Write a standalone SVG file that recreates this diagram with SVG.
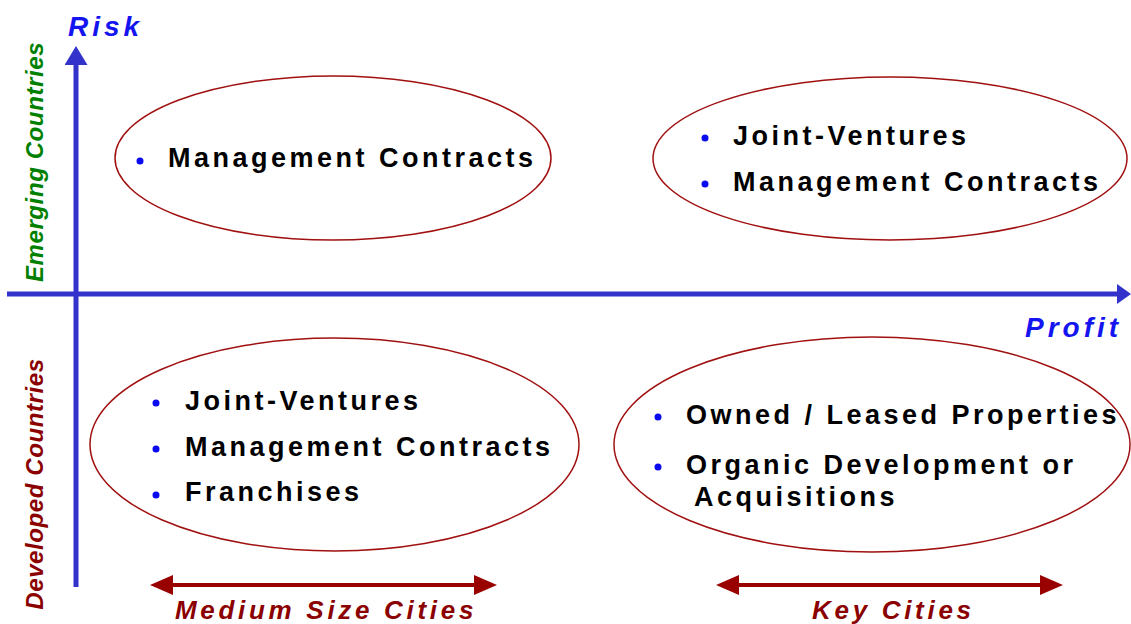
<svg xmlns="http://www.w3.org/2000/svg" width="1131" height="624" viewBox="0 0 1131 624">
<defs>
<style>
.ell{fill:none;stroke:#a01010;stroke-width:1.5}
.item{font-family:"Liberation Sans",Arial,sans-serif;font-weight:bold;font-size:27px;letter-spacing:3.5px;fill:#000}
.dot{fill:#0a0af0}
.axis{stroke:#3333cc;stroke-width:5;fill:none}
.red{stroke:#990000;stroke-width:4;fill:none}
.axlab{font-family:"Liberation Sans",Arial,sans-serif;font-weight:bold;font-style:italic;font-size:28px;letter-spacing:4px;fill:#1414f0}
.side{font-family:"Liberation Sans",Arial,sans-serif;font-weight:bold;font-style:italic;font-size:24px;letter-spacing:0.6px}
.city{font-family:"Liberation Sans",Arial,sans-serif;font-weight:bold;font-style:italic;font-size:26px;letter-spacing:3.7px;fill:#8b0000}
</style>
<marker id="headV" markerUnits="userSpaceOnUse" markerWidth="19" markerHeight="23" refX="0" refY="11.5" orient="auto" viewBox="0 0 19 23"><path d="M0,0 L19,11.5 L0,23 z" fill="#3333cc"/></marker>
<marker id="headH" markerUnits="userSpaceOnUse" markerWidth="14" markerHeight="20" refX="0" refY="10" orient="auto" viewBox="0 0 14 20"><path d="M0,0 L14,10 L0,20 z" fill="#3333cc"/></marker>
<marker id="headR" markerUnits="userSpaceOnUse" markerWidth="23" markerHeight="20" refX="0" refY="10" orient="auto-start-reverse" viewBox="0 0 23 20"><path d="M0,0 L23,10 L0,20 z" fill="#990000"/></marker>
</defs>
<rect width="1131" height="624" fill="#ffffff"/>
<g id="connectors">
<line class="axis" x1="76" y1="587" x2="76" y2="65" marker-end="url(#headV)"/>
<line class="axis" x1="7" y1="294" x2="1117" y2="294" marker-end="url(#headH)"/>
<line class="red" x1="173" y1="585" x2="474" y2="585" marker-start="url(#headR)" marker-end="url(#headR)"/>
<line class="red" x1="739" y1="585" x2="1040" y2="585" marker-start="url(#headR)" marker-end="url(#headR)"/>
</g>
<g id="labels">
<text class="axlab" x="68" y="36">Risk</text>
<text class="axlab" x="1025" y="337">Profit</text>
<text class="side" fill="#008000" text-anchor="middle" transform="translate(43,162) rotate(-90)">Emerging  Countries</text>
<text class="side" fill="#8b0000" text-anchor="middle" letter-spacing="1.1" transform="translate(43,484) rotate(-90)">Developed  Countries</text>
<text class="city" x="175" y="619">Medium Size Cities</text>
<text class="city" x="812" y="619">Key Cities</text>
</g>
<g id="node-emerging-medium">
<ellipse class="ell" cx="333" cy="158" rx="218" ry="82"/>
<circle class="dot" cx="140" cy="161" r="3.5"/>
<text class="item" x="168" y="167">Management Contracts</text>
</g>
<g id="node-emerging-key">
<ellipse class="ell" cx="890" cy="158.5" rx="237" ry="81.5"/>
<circle class="dot" cx="705" cy="138" r="3.5"/>
<text class="item" x="733" y="145">Joint-Ventures</text>
<circle class="dot" cx="705" cy="184" r="3.5"/>
<text class="item" x="733" y="191">Management Contracts</text>
</g>
<g id="node-developed-medium">
<ellipse class="ell" cx="334.5" cy="444.5" rx="244.5" ry="106.5"/>
<circle class="dot" cx="156" cy="403" r="3.5"/>
<text class="item" x="185" y="410">Joint-Ventures</text>
<circle class="dot" cx="156" cy="449" r="3.5"/>
<text class="item" x="185" y="456">Management Contracts</text>
<circle class="dot" cx="156" cy="495" r="3.5"/>
<text class="item" x="185" y="501">Franchises</text>
</g>
<g id="node-developed-key">
<ellipse class="ell" cx="872" cy="444.5" rx="258" ry="107.5"/>
<circle class="dot" cx="658" cy="417" r="3.5"/>
<text class="item" x="686" y="424">Owned / Leased Properties</text>
<circle class="dot" cx="658" cy="467" r="3.5"/>
<text class="item" x="686" y="474">Organic Development or</text>
<text class="item" x="694" y="506">Acquisitions</text>
</g>
</svg>
